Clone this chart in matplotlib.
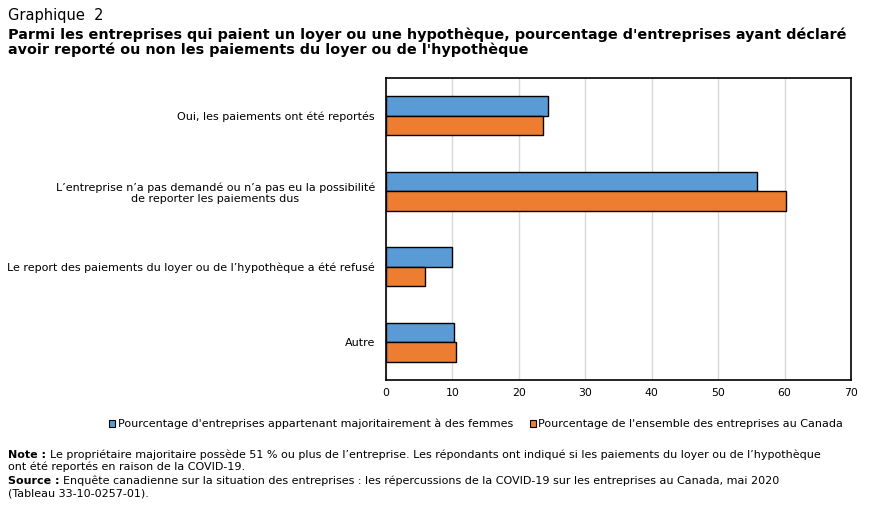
import matplotlib.pyplot as plt
import numpy as np
from matplotlib.patches import Patch

# Données du graphique
categories = [
    "Oui, les paiements ont été reportés",
    "L\u2019entreprise n\u2019a pas demandé ou n\u2019a pas eu la possibilité\nde reporter les paiements dus",
    "Le report des paiements du loyer ou de l\u2019hypothèque a été refusé",
    "Autre",
]
femmes = [24.4, 55.9, 9.9, 10.3]
ensemble = [23.6, 60.2, 5.8, 10.6]
series_labels = [
    "Pourcentage d'entreprises appartenant majoritairement à des femmes",
    "Pourcentage de l'ensemble des entreprises au Canada",
]
x_ticks = [0, 10, 20, 30, 40, 50, 60, 70]

BLUE = "#5B9BD5"
ORANGE = "#ED7D31"

plt.rcParams["font.family"] = ["DejaVu Sans"]

fig = plt.figure(figsize=(8.71, 5.11), dpi=100)
ax = fig.add_axes([386 / 871, 1 - 380 / 511, 465 / 871, 302 / 511])

y = np.arange(len(categories))
h = 0.26
ax.barh(y - h / 2, femmes, h, color=BLUE, edgecolor="black", linewidth=1, zorder=3)
ax.barh(y + h / 2, ensemble, h, color=ORANGE, edgecolor="black", linewidth=1, zorder=3)

ax.set_ylim(3.5, -0.5)
ax.set_xlim(0, 70)
ax.set_xticks(x_ticks)
ax.set_yticks(y)
ax.set_yticklabels(categories, fontsize=8, ha="right", multialignment="center")
ax.tick_params(axis="y", length=0, pad=8)
ax.tick_params(axis="x", length=0, labelsize=7.8, pad=6)
ax.grid(axis="x", color="#d9d9d9", linewidth=1, zorder=0)
for s in ax.spines.values():
    s.set_linewidth(1.2)

# Titre
fig.text(8 / 871, 1 - 15 / 511, "Graphique  2", fontsize=10.5, va="center", ha="left")
fig.text(8 / 871, 1 - 42 / 511,
         "Parmi les entreprises qui paient un loyer ou une hypothèque, pourcentage d'entreprises ayant déclaré\n"
         "avoir reporté ou non les paiements du loyer ou de l'hypothèque",
         fontsize=10.4, fontweight="bold", va="center", ha="left", linespacing=1.05)

# Légende
handles = [Patch(facecolor=BLUE, edgecolor="black", linewidth=0.8),
           Patch(facecolor=ORANGE, edgecolor="black", linewidth=0.8)]
fig.legend(handles, series_labels, loc="center", bbox_to_anchor=(476 / 871, 1 - 424 / 511),
           ncol=2, frameon=False, fontsize=8, handlelength=0.6, handleheight=0.6,
           handletextpad=0.2, columnspacing=1.5)

# Notes
fs = 8
fig.text(8 / 871, 1 - 455 / 511, "Note :", fontsize=fs, fontweight="bold", va="center")
fig.text(50 / 871, 1 - 455 / 511,
         "Le propriétaire majoritaire possède 51 % ou plus de l\u2019entreprise. Les répondants ont indiqué si les paiements du loyer ou de l\u2019hypothèque",
         fontsize=fs, va="center")
fig.text(8 / 871, 1 - 467 / 511, "ont été reportés en raison de la COVID-19.", fontsize=fs, va="center")
fig.text(8 / 871, 1 - 481 / 511, "Source :", fontsize=fs, fontweight="bold", va="center")
fig.text(63 / 871, 1 - 481 / 511,
         "Enquête canadienne sur la situation des entreprises : les répercussions de la COVID-19 sur les entreprises au Canada, mai 2020",
         fontsize=fs, va="center")
fig.text(8 / 871, 1 - 494 / 511, "(Tableau 33-10-0257-01).", fontsize=fs, va="center")

fig.savefig("out.png", dpi=100)
